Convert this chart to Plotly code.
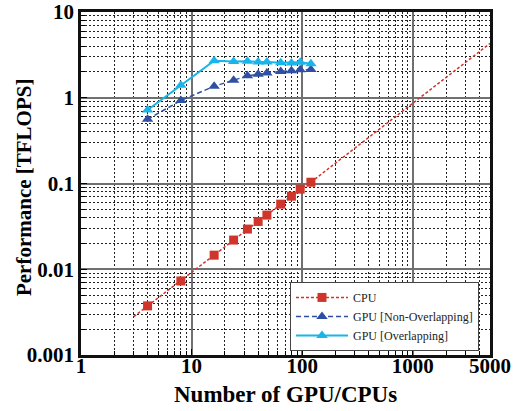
import plotly.graph_objects as go

# ---- data ----
n_units = [4, 8, 16, 24, 32, 40, 48, 64, 80, 96, 120]
cpu_perf = [0.00374, 0.0073, 0.0146, 0.0219, 0.0294, 0.0361, 0.0428, 0.0574, 0.0711, 0.0859, 0.1035]
gpu_nonoverlap = [0.56, 0.93, 1.36, 1.60, 1.80, 1.88, 1.95, 2.03, 2.07, 2.12, 2.14]
gpu_overlap = [0.72, 1.40, 2.70, 2.64, 2.66, 2.62, 2.62, 2.56, 2.55, 2.59, 2.50]
# ideal-scaling extension of the CPU line (end points)
cpu_ext_start = (3, 0.0028)
cpu_ext_end = (5000, 4.3)

x_tick_vals = [1, 10, 100, 1000, 5000]
x_tick_text = ["1", "10", "100", "1000", "5000"]
y_tick_vals = [0.001, 0.01, 0.1, 1, 10]
y_tick_text = ["0.001", "0.01", "0.1", "1", "10"]
x_title = "Number of GPU/CPUs"
y_title = "Performance [TFLOPS]"

RED = "#d0352b"
DBLUE = "#2f4fa3"
CYAN = "#17b5ea"

fig = go.Figure()
# extension segments of the CPU dashed line (before first / after last point)
fig.add_trace(go.Scatter(
    x=[cpu_ext_start[0], n_units[0], None, n_units[-1], cpu_ext_end[0]],
    y=[cpu_ext_start[1], cpu_perf[0], None, cpu_perf[-1], cpu_ext_end[1]],
    mode="lines", showlegend=False, hoverinfo="skip",
    line=dict(color=RED, width=1.5, dash="3px,2px"),
))
fig.add_trace(go.Scatter(
    x=n_units, y=cpu_perf, mode="lines+markers", name="CPU",
    line=dict(color=RED, width=1.5, dash="3px,2px"),
    marker=dict(symbol="square", size=9, color=RED),
))
fig.add_trace(go.Scatter(
    x=n_units, y=gpu_nonoverlap, mode="lines+markers", name="GPU [Non-Overlapping]",
    line=dict(color=DBLUE, width=1.5, dash="5px,3px"),
    marker=dict(symbol="triangle-up", size=10, color=DBLUE),
))
fig.add_trace(go.Scatter(
    x=n_units, y=gpu_overlap, mode="lines+markers", name="GPU [Overlapping]",
    line=dict(color=CYAN, width=2),
    marker=dict(symbol="triangle-up", size=10, color=CYAN),
))

x_minor = [k * 10 ** d for d in range(0, 4) for k in range(2, 10) if k * 10 ** d < 5000]
y_minor = [k * 10.0 ** d for d in range(-3, 1) for k in range(2, 10)]

tick_font = dict(family="Liberation Serif", size=21, color="black")
title_font = dict(family="Liberation Serif", size=22, color="black")

common = dict(
    type="log", tickmode="array",
    tickfont=tick_font, ticks="inside", ticklen=6, tickcolor="black",
    showgrid=True, gridcolor="#707070", gridwidth=1.5,
    showline=True, linecolor="#111", linewidth=2.5, mirror=True,
    zeroline=False, automargin=False,
)
minor = dict(showgrid=True, gridcolor="#222", griddash="2px,2px", gridwidth=1,
             ticks="inside", ticklen=4, tickcolor="black")

fig.update_xaxes(
    range=[0, 3.69897], tickvals=x_tick_vals,
    ticktext=["<b>%s</b>" % t for t in x_tick_text],
    ticklabelstandoff=-10,
    minor=dict(tickmode="array", tickvals=x_minor, **minor),
    **common,
)
fig.update_yaxes(
    range=[-3, 1], tickvals=y_tick_vals,
    ticktext=["<b>%s</b>" % t for t in y_tick_text],
    minor=dict(tickmode="array", tickvals=y_minor, **minor),
    **common,
)

# axis titles as annotations for exact placement
fig.add_annotation(text="<b>%s</b>" % x_title, xref="paper", yref="paper",
                   x=0.5, y=-0.114, xanchor="center", yanchor="middle",
                   showarrow=False, font=dict(family="Liberation Serif", size=23, color="black"))
fig.add_annotation(text="<b>%s</b>" % y_title, xref="paper", yref="paper",
                   x=-0.139, y=0.49, xanchor="center", yanchor="middle", textangle=-90,
                   showarrow=False, font=dict(family="Liberation Serif", size=21, color="black"))

fig.update_layout(
    width=514, height=411,
    margin=dict(l=81, r=24, t=12, b=56),
    paper_bgcolor="white", plot_bgcolor="white",
    font=dict(family="Liberation Serif", color="black"),
    legend=dict(
        x=0.511, y=0.213, xanchor="left", yanchor="top",
        bgcolor="white", bordercolor="#444", borderwidth=1,
        font=dict(family="Liberation Serif", size=12, color="#222"),
        tracegroupgap=0, itemwidth=52,
    ),
)

fig.write_html("out.html")
